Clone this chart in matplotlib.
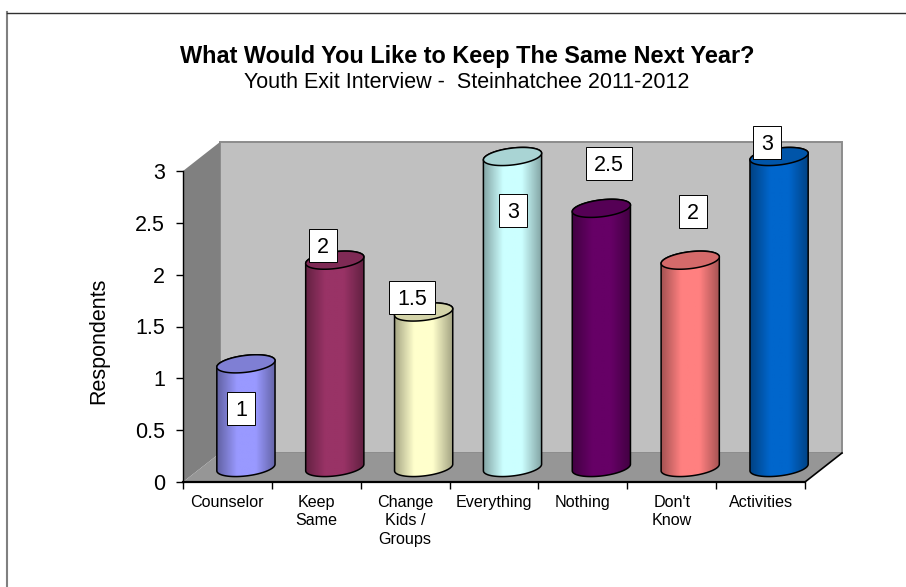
import numpy as np
import matplotlib
matplotlib.use("Agg")
import matplotlib.pyplot as plt
from matplotlib.lines import Line2D
from matplotlib.patches import PathPatch, Polygon
from matplotlib.path import Path
from matplotlib.colors import to_rgb

plt.rcParams["font.family"] = ["Liberation Sans", "DejaVu Sans"]

categories = ["Counselor", "Keep\nSame", "Change\nKids /\nGroups", "Everything",
              "Nothing", "Don't\nKnow", "Activities"]
values = [1, 2, 1.5, 3, 2.5, 2, 3]
value_labels = ["1", "2", "1.5", "3", "2.5", "2", "3"]
bar_colors = ["#9999FF", "#993366", "#FFFFCC", "#CCFFFF", "#660066", "#FF8080", "#0066CC"]
y_ticks = [0, 0.5, 1, 1.5, 2, 2.5, 3]
y_tick_labels = ["0", "0.5", "1", "1.5", "2", "2.5", "3"]

# hand-placed label boxes, centre positions in pixels from the top-left corner
label_centres = [(241, 408.5), (323, 245.5), (412, 297.5), (513, 210), (609, 163.5), (693, 211), (767, 142)]

W, H = 906, 587
LEFT, RIGHT, BOTTOM, TOP = 183, 805, 482, 171  # front plane of the 3-D box, pixels
DEPTH_X, DEPTH_Y = 37, 29                      # box depth, pixels
SEMI_A, SEMI_B, TILT = 29.3, 8.4, np.radians(7)  # cylinder cross-section, pixels
BOX_PAD_X, BOX_HALF_H, DIGIT_HALF_H = 8.0, 16.5, 7.5  # label box geometry, pixels

fig = plt.figure(figsize=(W / 100, H / 100), dpi=100)
fig.patch.set_facecolor("white")
ax = fig.add_axes([LEFT / W, 1 - BOTTOM / H, (RIGHT - LEFT) / W, (BOTTOM - TOP) / H])
ax.set_xlim(0, len(categories))
ax.set_ylim(0, 3)
ax.patch.set_visible(False)
for side in ("top", "right"):
    ax.spines[side].set_visible(False)
ax.spines["left"].set_linewidth(1.0)
ax.spines["left"].set_zorder(20)
ax.spines["bottom"].set_linewidth(1.6)
ax.spines["bottom"].set_zorder(20)

ux = (RIGHT - LEFT) / len(categories)
uy = (BOTTOM - TOP) / 3.0
dx, dy = DEPTH_X / ux, DEPTH_Y / uy
n = len(categories)

# walls and floor of the box
ax.add_patch(Polygon([(dx, dy), (n + dx, dy), (n + dx, 3 + dy), (dx, 3 + dy)],
                     fc="#C0C0C0", ec="#8C8C8C", lw=1.4, clip_on=False, zorder=1))
ax.add_patch(Polygon([(0, 0), (dx, dy), (dx, 3 + dy), (0, 3)],
                     fc="#808080", ec="none", clip_on=False, zorder=2))
ax.add_patch(Polygon([(0, 0), (n, 0), (n + dx, dy), (dx, dy)],
                     fc="#969696", ec="none", clip_on=False, zorder=2))
ax.add_line(Line2D([n, n + dx], [0, dy], color="black", lw=1.2, clip_on=False, zorder=3))


def ellipse_points(cx, cy, t):
    """Tilted cross-section outline, returned in data units."""
    x = SEMI_A * np.cos(t) * np.cos(TILT) - SEMI_B * np.sin(t) * np.sin(TILT)
    y = SEMI_A * np.cos(t) * np.sin(TILT) + SEMI_B * np.sin(t) * np.cos(TILT)
    return cx + x / ux, cy + y / uy


def label_box(x0, y0, width, height, mutation_size):
    """Fixed-height box around a text line, centred on its digits."""
    baseline = y0 + 0.21 * mutation_size
    mid = baseline + DIGIT_HALF_H
    xa, xb = x0 - BOX_PAD_X, x0 + width + BOX_PAD_X
    ya, yb = mid - BOX_HALF_H, mid + BOX_HALF_H
    return Path([(xa, ya), (xb, ya), (xb, yb), (xa, yb), (xa, ya)], closed=True)


# parameter of the right-hand silhouette point on the ellipse
t_right = np.arctan2(-SEMI_B * np.sin(TILT), SEMI_A * np.cos(TILT))

for i, (val, col) in enumerate(zip(values, bar_colors)):
    cx = i + 0.5 + dx / 2
    cy = dy / 2
    top = cy + val

    # side surface: lower arc of the base, then upper arc of the cap
    tb = np.linspace(t_right - np.pi, t_right, 60)
    xb, yb = ellipse_points(cx, cy, tb)
    tt = np.linspace(t_right, t_right + np.pi, 60)
    xt, yt = ellipse_points(cx, top, tt)
    verts = np.column_stack([np.r_[xb, xt], np.r_[yb, yt]])
    outline = np.vstack([verts, verts[0]])

    # horizontal shading across the cylinder
    base = np.array(to_rgb(col))
    pos = np.linspace(0, 1, 120)
    shade = np.clip(np.minimum(pos, 1 - pos) / 0.34, 0, 1)
    factor = 0.64 + 0.36 * shade
    grad = (base[None, :] * factor[:, None])[None, :, :]
    half = SEMI_A / ux
    im = ax.imshow(grad, extent=(cx - half, cx + half, cy - 0.2, top + 0.2), aspect="auto",
                   interpolation="bilinear", zorder=5 + i * 0.1)
    im.set_clip_box(fig.bbox)
    im.set_clip_path(PathPatch(Path(outline, closed=True), transform=ax.transData))

    ax.add_patch(PathPatch(Path(outline, closed=True), fc="none", ec="black", lw=1.1,
                           clip_on=False, zorder=5.02 + i * 0.1))

    # cap ellipse
    tc = np.linspace(0, 2 * np.pi, 120)
    xc, yc = ellipse_points(cx, top, tc)
    ax.add_patch(Polygon(np.column_stack([xc, yc]), closed=True, fc=base * 0.83, ec="black",
                         lw=1.1, clip_on=False, zorder=5.05 + i * 0.1))

ax.set_xlim(0, n)
ax.set_ylim(0, 3)

# value labels in white boxes, placed through the same data scale
for text, (px, py) in zip(value_labels, label_centres):
    ax.text((px - LEFT) / ux, (BOTTOM - py - DIGIT_HALF_H) / uy, text, ha="center", va="baseline",
            fontsize=15.5, color="black", clip_on=False, zorder=15,
            bbox=dict(boxstyle=label_box, fc="white", ec="black", lw=0.7))

ax.set_xticks(range(n + 1))
ax.set_xticklabels([""] * (n + 1))
ax.tick_params(axis="x", length=5, width=1.0, color="black")
ax.set_yticks(y_ticks)
ax.set_yticklabels(y_tick_labels, fontsize=15.5)
ax.tick_params(axis="y", length=5, width=1.0, pad=8, color="black")
for i, name in enumerate(categories):
    ax.annotate(name, (i + 0.5, 0), xytext=(0, -9.5), textcoords="offset points",
                ha="center", va="top", fontsize=11.6, linespacing=1.27,
                annotation_clip=False)

fig.text(98.5 / W, 1 - 340.5 / H, "Respondents", rotation=90, ha="center", va="center", fontsize=15.5)
fig.text(467 / W, 1 - 57 / H, "What Would You Like to Keep The Same Next Year?",
         ha="center", va="center", fontsize=16.9, fontweight="bold")
fig.text(467 / W, 1 - 82 / H, "Youth Exit Interview -  Steinhatchee 2011-2012",
         ha="center", va="center", fontsize=15.5)

# partial frame around the chart area
fig.add_artist(Line2D([7 / W, 7 / W], [1 - 12 / H, 0], color="#808080", lw=1.5))
fig.add_artist(Line2D([7 / W, 1], [1 - 12.5 / H, 1 - 12.5 / H], color="#303030", lw=1.0))

fig.savefig("out.png", dpi=100)
